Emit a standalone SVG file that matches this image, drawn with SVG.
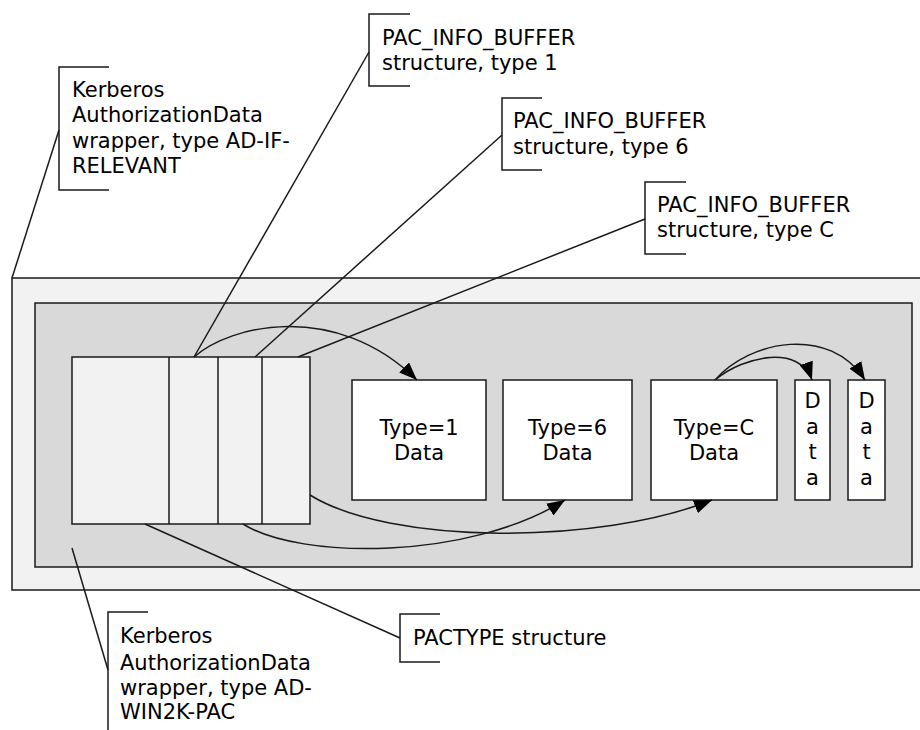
<svg xmlns="http://www.w3.org/2000/svg" width="920" height="730" viewBox="0 0 920 730">
<style>
.t{font-family:"DejaVu Sans",Verdana,sans-serif;font-size:21px;fill:#000}
.c{text-anchor:middle}
.box{stroke:#1a1a1a;stroke-width:1.5}
.ln{fill:none;stroke:#1a1a1a;stroke-width:1.5}
.ar{fill:none;stroke:#1a1a1a;stroke-width:1.5;marker-end:url(#ah)}
</style>
<defs>
<marker id="ah" viewBox="0 0 18 14" refX="18" refY="7" markerWidth="18" markerHeight="14" markerUnits="userSpaceOnUse" orient="auto">
<path d="M0,0 L18,7 L0,14 Z" fill="#000"/>
</marker>
</defs>
<rect width="920" height="730" fill="#fff"/>
<g id="outer-wrapper">
<rect class="box" x="12" y="278" width="915" height="312" fill="#f2f2f2"/>
</g>
<g id="inner-wrapper">
<rect class="box" x="35" y="303" width="877" height="264" fill="#d9d9d9"/>
</g>
<g id="pactype">
<rect class="box" x="72" y="357" width="238" height="167" fill="#f2f2f2"/>
<line class="ln" x1="169" y1="357" x2="169" y2="524"/>
<line class="ln" x1="218" y1="357" x2="218" y2="524"/>
<line class="ln" x1="262" y1="357" x2="262" y2="524"/>
</g>
<g id="type1">
<rect class="box" x="352" y="380" width="134" height="120" fill="#fff"/>
<text class="t c" x="419" y="435">Type=1</text>
<text class="t c" x="419" y="460">Data</text>
</g>
<g id="type6">
<rect class="box" x="503" y="380" width="129" height="120" fill="#fff"/>
<text class="t c" x="567.5" y="435">Type=6</text>
<text class="t c" x="567.5" y="460">Data</text>
</g>
<g id="typeC">
<rect class="box" x="651" y="380" width="126" height="120" fill="#fff"/>
<text class="t c" x="714" y="435">Type=C</text>
<text class="t c" x="714" y="460">Data</text>
</g>
<g id="data1">
<rect class="box" x="795" y="380" width="35" height="120" fill="#fff"/>
<text class="t c" x="812.5" y="408">D</text>
<text class="t c" x="812.5" y="434">a</text>
<text class="t c" x="812.5" y="459">t</text>
<text class="t c" x="812.5" y="485">a</text>
</g>
<g id="data2">
<rect class="box" x="848" y="380" width="37" height="120" fill="#fff"/>
<text class="t c" x="866.5" y="408">D</text>
<text class="t c" x="866.5" y="434">a</text>
<text class="t c" x="866.5" y="459">t</text>
<text class="t c" x="866.5" y="485">a</text>
</g>
<g id="label-adif">
<path class="ln" d="M109,67 H59 V190 H109"/>
<text class="t" x="72" y="97">Kerberos</text>
<text class="t" x="72" y="122">AuthorizationData</text>
<text class="t" x="72" y="148">wrapper, type AD-IF-</text>
<text class="t" x="72" y="173">RELEVANT</text>
</g>
<g id="label-type1">
<path class="ln" d="M410,14 H369 V86 H410"/>
<text class="t" x="382" y="45">PAC_INFO_BUFFER</text>
<text class="t" x="382" y="70">structure, type 1</text>
</g>
<g id="label-type6">
<path class="ln" d="M542,98 H502 V170 H542"/>
<text class="t" x="513" y="128">PAC_INFO_BUFFER</text>
<text class="t" x="513" y="154">structure, type 6</text>
</g>
<g id="label-typeC">
<path class="ln" d="M686,182 H645 V254 H686"/>
<text class="t" x="657" y="212">PAC_INFO_BUFFER</text>
<text class="t" x="657" y="237">structure, type C</text>
</g>
<g id="label-pactype">
<path class="ln" d="M440,614 H400 V662 H440"/>
<text class="t" x="413" y="645">PACTYPE structure</text>
</g>
<g id="label-win2k">
<path class="ln" d="M148,612 H108 V735"/>
<text class="t" x="120" y="643">Kerberos</text>
<text class="t" x="120" y="670">AuthorizationData</text>
<text class="t" x="120" y="695">wrapper, type AD-</text>
<text class="t" x="120" y="719">WIN2K-PAC</text>
</g>
<g id="connectors">
<line class="ln" x1="12" y1="278" x2="59" y2="130"/>
<line class="ln" x1="369" y1="52" x2="194" y2="357"/>
<line class="ln" x1="502" y1="135" x2="255" y2="357"/>
<line class="ln" x1="645" y1="219" x2="298" y2="357"/>
<line class="ln" x1="145" y1="524" x2="400" y2="638"/>
<line class="ln" x1="72" y1="548" x2="108" y2="670"/>
<path class="ar" d="M194,357 C230,325 335,300 417,380"/>
<path class="ar" d="M310,495 C390,545 600,545 712,500"/>
<path class="ar" d="M243,524 C300,560 470,560 565,500"/>
<path class="ar" d="M715,380 C745,355 800,345 812,380"/>
<path class="ar" d="M715,380 C750,340 830,325 865,380"/>
</g>
</svg>
